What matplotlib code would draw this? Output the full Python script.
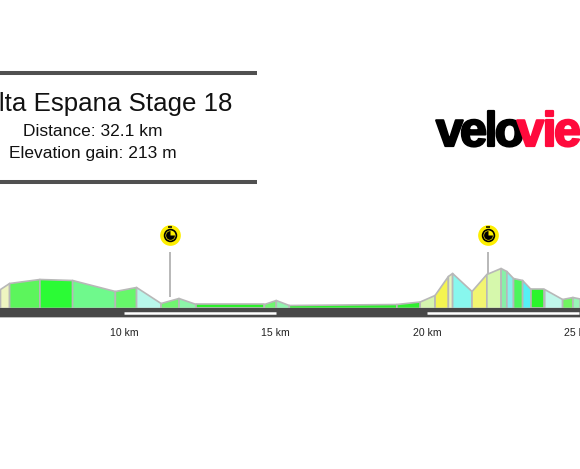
import matplotlib
matplotlib.use("Agg")
import matplotlib.pyplot as plt
from matplotlib.path import Path
import matplotlib.patheffects as pe

plt.rcParams["font.family"] = ["Liberation Sans", "DejaVu Sans"]

W, H = 580, 469

km = [5.9, 6.2, 7.2, 8.28, 9.69, 10.39, 11.2, 11.79, 12.36, 14.61, 15.0, 15.43,
      18.98, 19.75, 20.24, 20.68, 20.82, 21.46, 21.95, 22.42, 22.61, 22.83,
      23.13, 23.41, 23.86, 24.45, 24.79, 25.03]
elev = [19, 25, 29, 28, 17, 21, 5, 10, 4, 4, 8, 3, 4, 6.5, 13, 32, 35, 17, 34,
        40, 37, 30, 28, 19, 19, 9, 11, 9.5]
seg_colors = ["#eef5c0", "#5cf55c", "#2bfb35", "#6ff98c", "#66f76a", "#b8f7ea",
              "#70f570", "#8cf5a8", "#2bf02b", "#70f570", "#90f5ae", "#2bee2b",
              "#30ee30", "#d5f5ae", "#f4f450", "#e8f5c0", "#88f7ee", "#f2f570",
              "#d6f8ac", "#88f0a8", "#88eeee", "#4cf55c", "#55f0f5", "#2bf52b",
              "#c0f7ea", "#70f560", "#98f5b8"]

tick_km = [10, 15, 20, 25]
tick_labels = ["10 km", "15 km", "20 km", "25 km"]
dash_starts = [10, 20]
dash_ends = [15, 25]

sprint_km = [11.5, 22.0]
sprint_elev = [11, 34]

title = "Vuelta Espana Stage 18"
distance = "Distance: 32.1 km"
gain = "Elevation gain: 213 m"

fig = plt.figure(figsize=(W / 100, H / 100), dpi=100)
ax = fig.add_axes([0, 0, 1, 1])
ax.set_xlim(5.9, 25.04)
ax.set_ylim(-161, 308)
ax.axis("off")

# profile, one polygon per gradient section
for i, c in enumerate(seg_colors):
    ax.fill_between(km[i:i + 2], elev[i:i + 2], 0, facecolor=c,
                    edgecolor="#b8b8b8", linewidth=1.2, zorder=2)

ax.axhspan(-8.7, 0, color="#484848", zorder=3, lw=0)
ax.axhline(-9, color="#bbbbbb", lw=0.7, zorder=3)
ax.hlines([-5] * 2, dash_starts, dash_ends, color="white", lw=1.8, zorder=4)

for k, lab in zip(tick_km, tick_labels):
    ax.text(k, -25.5, lab, ha="center", va="center", fontsize=7.6, color="#222222",
            clip_on=True)

# sprint markers
ax.vlines(sprint_km, sprint_elev, 56, color="#ababab", lw=1.2, zorder=1)
icon_y = [73] * 2
ax.scatter(sprint_km, icon_y, s=222, color="#fdee00", lw=0, zorder=5)
ax.scatter(sprint_km, icon_y, s=72, facecolor="#fdee00", edgecolor="black", lw=1.2, zorder=6)
ax.scatter(sprint_km, icon_y, s=42, color="black", lw=0, marker=Path.wedge(90, 360), zorder=7)
ax.scatter(sprint_km, [81] * 2, s=12, color="black", marker="_", lw=1.1, zorder=7)


def fx(px):
    return px / W


def fy(py):
    return 1 - py / H


# title box
for py in (73.5, 182):
    fig.add_artist(plt.Line2D([0, fx(257)], [fy(py)] * 2, color="#505050", lw=2.9,
                              solid_capstyle="butt"))

fig.text(fx(93.5), fy(104), title, ha="center", va="center", fontsize=18.6, color="#111111")
fig.text(fx(93), fy(132), distance, ha="center", va="center", fontsize=12.5, color="#111111")
fig.text(fx(93), fy(153.5), gain, ha="center", va="center", fontsize=12.5, color="#111111")

# logo, letters set one by one because they overlap
logo_letters = ["v", "e", "l", "o", "v", "i", "e"]
logo_x = [449.5, 473.5, 491, 509.5, 530.5, 549.5, 567.5]
logo_colors = ["black"] * 4 + ["#ff0a3c"] * 3
for ch, px, c in zip(logo_letters, logo_x, logo_colors):
    fig.text(fx(px), fy(146), ch, ha="center", va="baseline", fontsize=35, color=c,
             fontweight="bold", path_effects=[pe.withStroke(linewidth=1.6, foreground=c)])

fig.savefig("out.png", dpi=100)
